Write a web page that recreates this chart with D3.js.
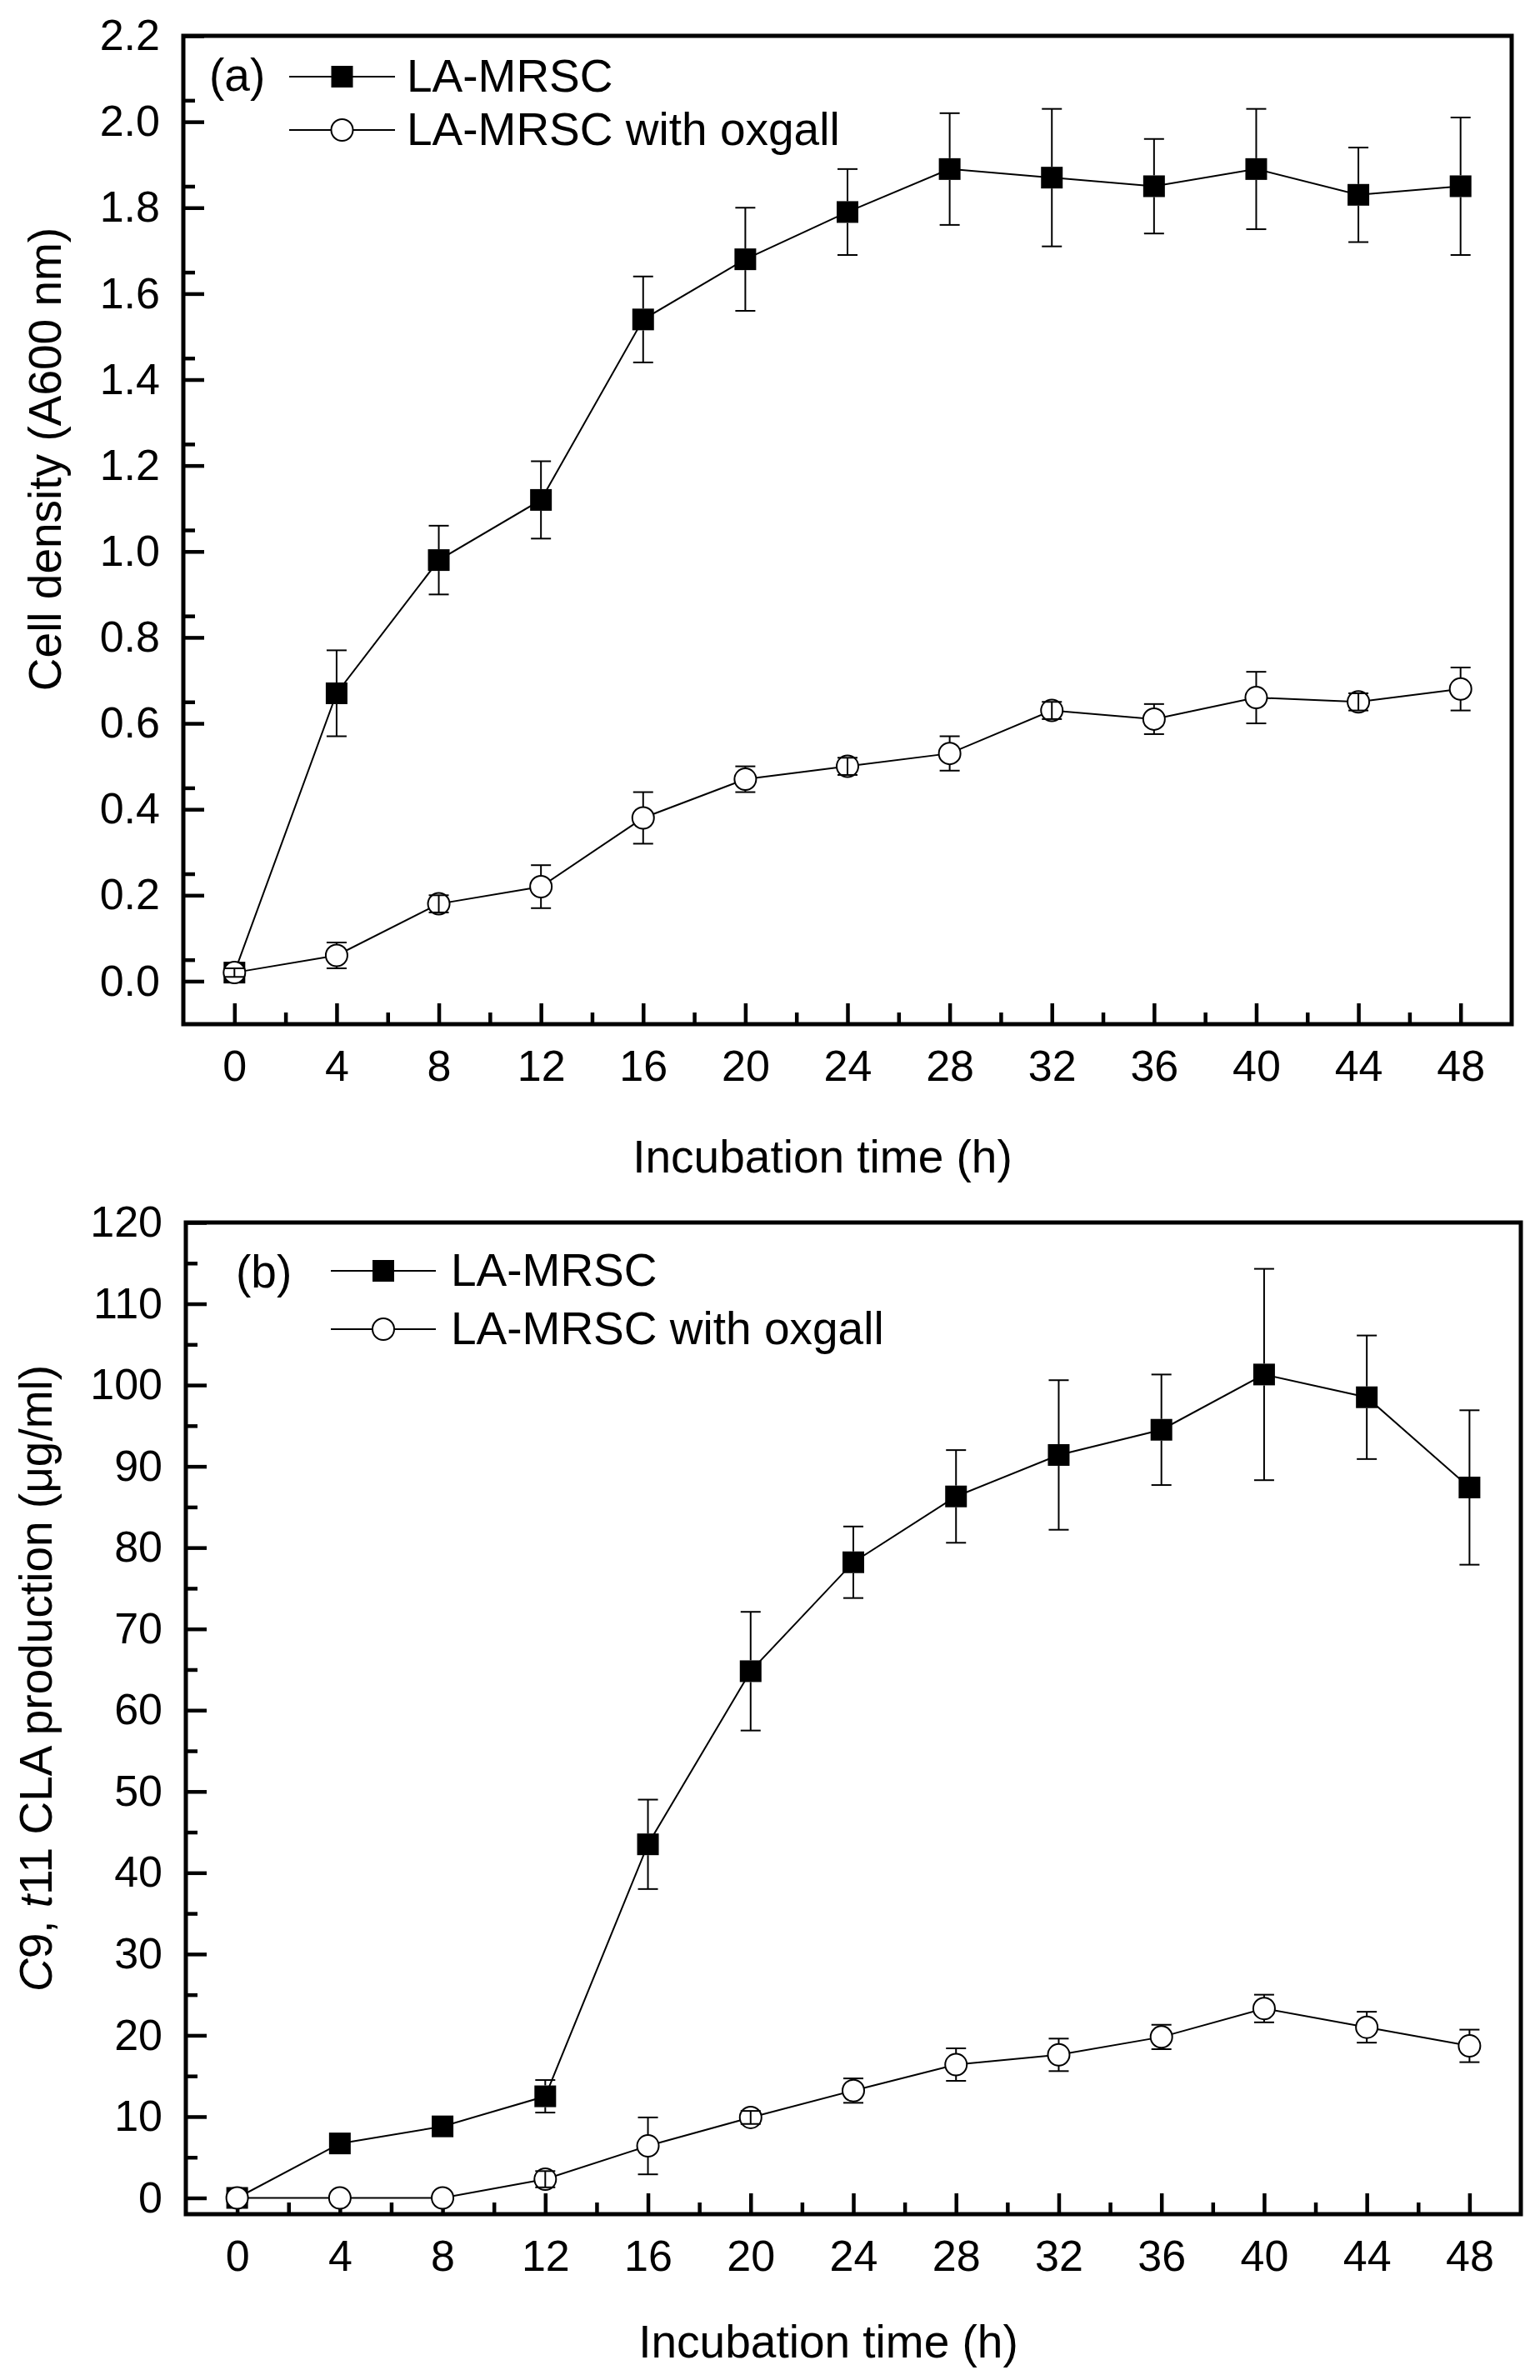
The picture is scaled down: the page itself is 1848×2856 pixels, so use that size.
<!DOCTYPE html>
<html>
<head>
<meta charset="utf-8">
<script src="https://cdn.jsdelivr.net/npm/d3@7"></script>
<style>
  body { margin: 0; background: #fff; }
  text { font-family: "Liberation Sans", Arial, sans-serif; fill: #000; }
</style>
</head>
<body>
<svg id="chart"></svg>
<script>
// Sampling times (h)
var hours = [0, 4, 8, 12, 16, 20, 24, 28, 32, 36, 40, 44, 48];
var xTicks = [0, 4, 8, 12, 16, 20, 24, 28, 32, 36, 40, 44, 48];
var xTickLabels = ["0", "4", "8", "12", "16", "20", "24", "28", "32", "36", "40", "44", "48"];

var seriesNames = ["LA-MRSC", "LA-MRSC with oxgall"];

// Panel (a): cell density (A600 nm)
var densityLA    = [0.02, 0.67, 0.98, 1.12, 1.54, 1.68, 1.79, 1.89, 1.87, 1.85, 1.89, 1.83, 1.85];
var densityLAErr = [0.01, 0.10, 0.08, 0.09, 0.10, 0.12, 0.10, 0.13, 0.16, 0.11, 0.14, 0.11, 0.16];
var densityOx    = [0.02, 0.06, 0.18, 0.22, 0.38, 0.47, 0.50, 0.53, 0.63, 0.61, 0.66, 0.65, 0.68];
var densityOxErr = [0.01, 0.03, 0.02, 0.05, 0.06, 0.03, 0.02, 0.04, 0.02, 0.035, 0.06, 0.02, 0.05];
var densityTicks = [0, 0.2, 0.4, 0.6, 0.8, 1.0, 1.2, 1.4, 1.6, 1.8, 2.0, 2.2];
var densityTickLabels = ["0.0", "0.2", "0.4", "0.6", "0.8", "1.0", "1.2", "1.4", "1.6", "1.8", "2.0", "2.2"];

// Panel (b): c9,t11 CLA production (ug/ml)
var claLA    = [0, 6.7, 8.8, 12.5, 43.5, 64.8, 78.2, 86.3, 91.4, 94.5, 101.3, 98.5, 87.4];
var claLAErr = [0, 0.5, 0.5, 2.0, 5.5, 7.3, 4.4, 5.7, 9.2, 6.8, 13.0, 7.6, 9.5];
var claOx    = [0, 0, 0, 2.3, 6.4, 9.9, 13.2, 16.4, 17.6, 19.8, 23.3, 21.0, 18.7];
var claOxErr = [0, 0, 0, 1.0, 3.5, 0.8, 1.5, 2.0, 2.0, 1.5, 1.7, 1.9, 2.0];
var claTicks = [0, 10, 20, 30, 40, 50, 60, 70, 80, 90, 100, 110, 120];
var claTickLabels = ["0", "10", "20", "30", "40", "50", "60", "70", "80", "90", "100", "110", "120"];

var svg = d3.select("#chart")
  .attr("width", 1848)
  .attr("height", 2856);

var MARK = 13; // half marker size

var panels = [
  {
    tag: "(a)", left: 220, right: 1814, top: 43, bottom: 1229,
    yDomain: [-0.1, 2.2], yTicks: densityTicks, yLabels: densityTickLabels, yMinorStep: 0.1,
    la: densityLA, laErr: densityLAErr, ox: densityOx, oxErr: densityOxErr,
    titleX: 73, titleY: 551,
    legend: { tagX: 31, tagY: 66, x1: 127, x2: 254, row1: 49, row2: 113, textX: 268 }
  },
  {
    tag: "(b)", left: 223, right: 1825, top: 1467, bottom: 2657,
    yDomain: [-2, 120], yTicks: claTicks, yLabels: claTickLabels, yMinorStep: 10,
    la: claLA, laErr: claLAErr, ox: claOx, oxErr: claOxErr,
    titleX: 62, titleY: 2014,
    legend: { tagX: 60, tagY: 78, x1: 174, x2: 300, row1: 58, row2: 128, textX: 318 }
  }
];

function drawPanel(p, idx) {
  var x = d3.scaleLinear().domain([-2, 50]).range([p.left, p.right]);
  var y = d3.scaleLinear().domain(p.yDomain).range([p.bottom, p.top]);
  var g = svg.append("g");

  // minor ticks halfway between the major ones
  var yMinor = p.yTicks.slice(0, -1).map(function(d) { return d + p.yMinorStep / 2; });
  var xMinor = xTicks.slice(0, -1).map(function(d) { return d + 2; });

  g.append("g")
    .attr("transform", "translate(" + p.left + ",0)")
    .call(d3.axisLeft(y).tickValues(yMinor).tickSize(-14).tickFormat(""))
    .call(function(a) { a.select(".domain").remove(); });

  g.append("g")
    .attr("transform", "translate(0," + p.bottom + ")")
    .call(d3.axisBottom(x).tickValues(xMinor).tickSize(-14).tickFormat(""))
    .call(function(a) { a.select(".domain").remove(); });

  // major ticks with labels
  g.append("g")
    .attr("transform", "translate(" + p.left + ",0)")
    .call(d3.axisLeft(y).tickValues(p.yTicks).tickSize(-25).tickPadding(28)
      .tickFormat(function(d, i) { return p.yLabels[i]; }))
    .call(function(a) { a.select(".domain").remove(); });

  g.append("g")
    .attr("transform", "translate(0," + p.bottom + ")")
    .call(d3.axisBottom(x).tickValues(xTicks).tickSize(-25).tickPadding(31)
      .tickFormat(function(d, i) { return xTickLabels[i]; }))
    .call(function(a) { a.select(".domain").remove(); });

  g.selectAll(".tick line").attr("stroke", "#000").attr("stroke-width", 4.5);
  g.selectAll(".tick text")
    .attr("font-size", 52)
    .attr("font-family", "'Liberation Sans', Arial, sans-serif")
    .attr("fill", "#000");

  // frame
  g.append("rect")
    .attr("x", p.left).attr("y", p.top)
    .attr("width", p.right - p.left).attr("height", p.bottom - p.top)
    .attr("fill", "none").attr("stroke", "#000").attr("stroke-width", 5);

  var line = d3.line()
    .x(function(d, i) { return x(hours[i]); })
    .y(function(d) { return y(d); });

  function drawSeries(vals, errs, kind) {
    g.append("path")
      .attr("d", line(vals))
      .attr("fill", "none").attr("stroke", "#000").attr("stroke-width", 2);

    if (kind === "square") {
      g.selectAll(null).data(vals).enter().append("rect")
        .attr("x", function(d, i) { return x(hours[i]) - MARK; })
        .attr("y", function(d) { return y(d) - MARK; })
        .attr("width", 2 * MARK).attr("height", 2 * MARK)
        .attr("fill", "#000");
    } else {
      g.selectAll(null).data(vals).enter().append("circle")
        .attr("cx", function(d, i) { return x(hours[i]); })
        .attr("cy", function(d) { return y(d); })
        .attr("r", MARK)
        .attr("fill", "#fff").attr("stroke", "#000").attr("stroke-width", 2);
    }

    // error bars: start at the marker edge, unless they fit inside it
    g.selectAll(null).data(vals).enter().append("g")
      .each(function(d, i) {
        var e = errs[i];
        if (!(e > 0)) return;
        var cx = x(hours[i]);
        var cy = y(d);
        var hi = y(d + e), lo = y(d - e);
        var s = d3.select(this);
        if (cy - hi > MARK) {
          s.append("line").attr("x1", cx).attr("x2", cx).attr("y1", cy - MARK).attr("y2", hi);
          s.append("line").attr("x1", cx).attr("x2", cx).attr("y1", cy + MARK).attr("y2", lo);
        } else {
          s.append("line").attr("x1", cx).attr("x2", cx).attr("y1", lo).attr("y2", hi);
        }
        s.append("line").attr("x1", cx - 12).attr("x2", cx + 12).attr("y1", lo).attr("y2", lo);
        s.append("line").attr("x1", cx - 12).attr("x2", cx + 12).attr("y1", hi).attr("y2", hi);
        s.selectAll("line").attr("stroke", "#000").attr("stroke-width", 2);
      });
  }

  drawSeries(p.la, p.laErr, "square");
  drawSeries(p.ox, p.oxErr, "circle");

  // legend
  var L = p.legend;
  g.append("text")
    .attr("x", p.left + L.tagX).attr("y", p.top + L.tagY)
    .attr("font-size", 55).text(p.tag);

  [L.row1, L.row2].forEach(function(ry, k) {
    var ly = p.top + ry;
    var mx = p.left + (L.x1 + L.x2) / 2;
    g.append("line")
      .attr("x1", p.left + L.x1).attr("x2", p.left + L.x2)
      .attr("y1", ly).attr("y2", ly)
      .attr("stroke", "#000").attr("stroke-width", 2);
    if (k === 0) {
      g.append("rect").attr("x", mx - MARK).attr("y", ly - MARK)
        .attr("width", 2 * MARK).attr("height", 2 * MARK).attr("fill", "#000");
    } else {
      g.append("circle").attr("cx", mx).attr("cy", ly).attr("r", MARK)
        .attr("fill", "#fff").attr("stroke", "#000").attr("stroke-width", 2);
    }
    g.append("text")
      .attr("x", p.left + L.textX).attr("y", ly + 18)
      .attr("font-size", 55).text(seriesNames[k]);
  });

  // axis titles
  g.append("text")
    .attr("x", (p.left + p.right) / 2 - 30)
    .attr("y", p.bottom + (idx === 0 ? 178 : 172))
    .attr("text-anchor", "middle")
    .attr("font-size", 55)
    .text("Incubation time (h)");

  var yt = g.append("text")
    .attr("transform", "translate(" + p.titleX + "," + p.titleY + ") rotate(-90)")
    .attr("text-anchor", "middle")
    .attr("font-size", 55);
  if (idx === 0) {
    yt.text("Cell density (A600 nm)");
  } else {
    yt.append("tspan").attr("font-style", "italic").text("C");
    yt.append("tspan").text("9, ");
    yt.append("tspan").attr("font-style", "italic").text("t");
    yt.append("tspan").text("11 CLA production (\u03BCg/ml)");
  }
}

panels.forEach(drawPanel);
</script>
</body>
</html>
